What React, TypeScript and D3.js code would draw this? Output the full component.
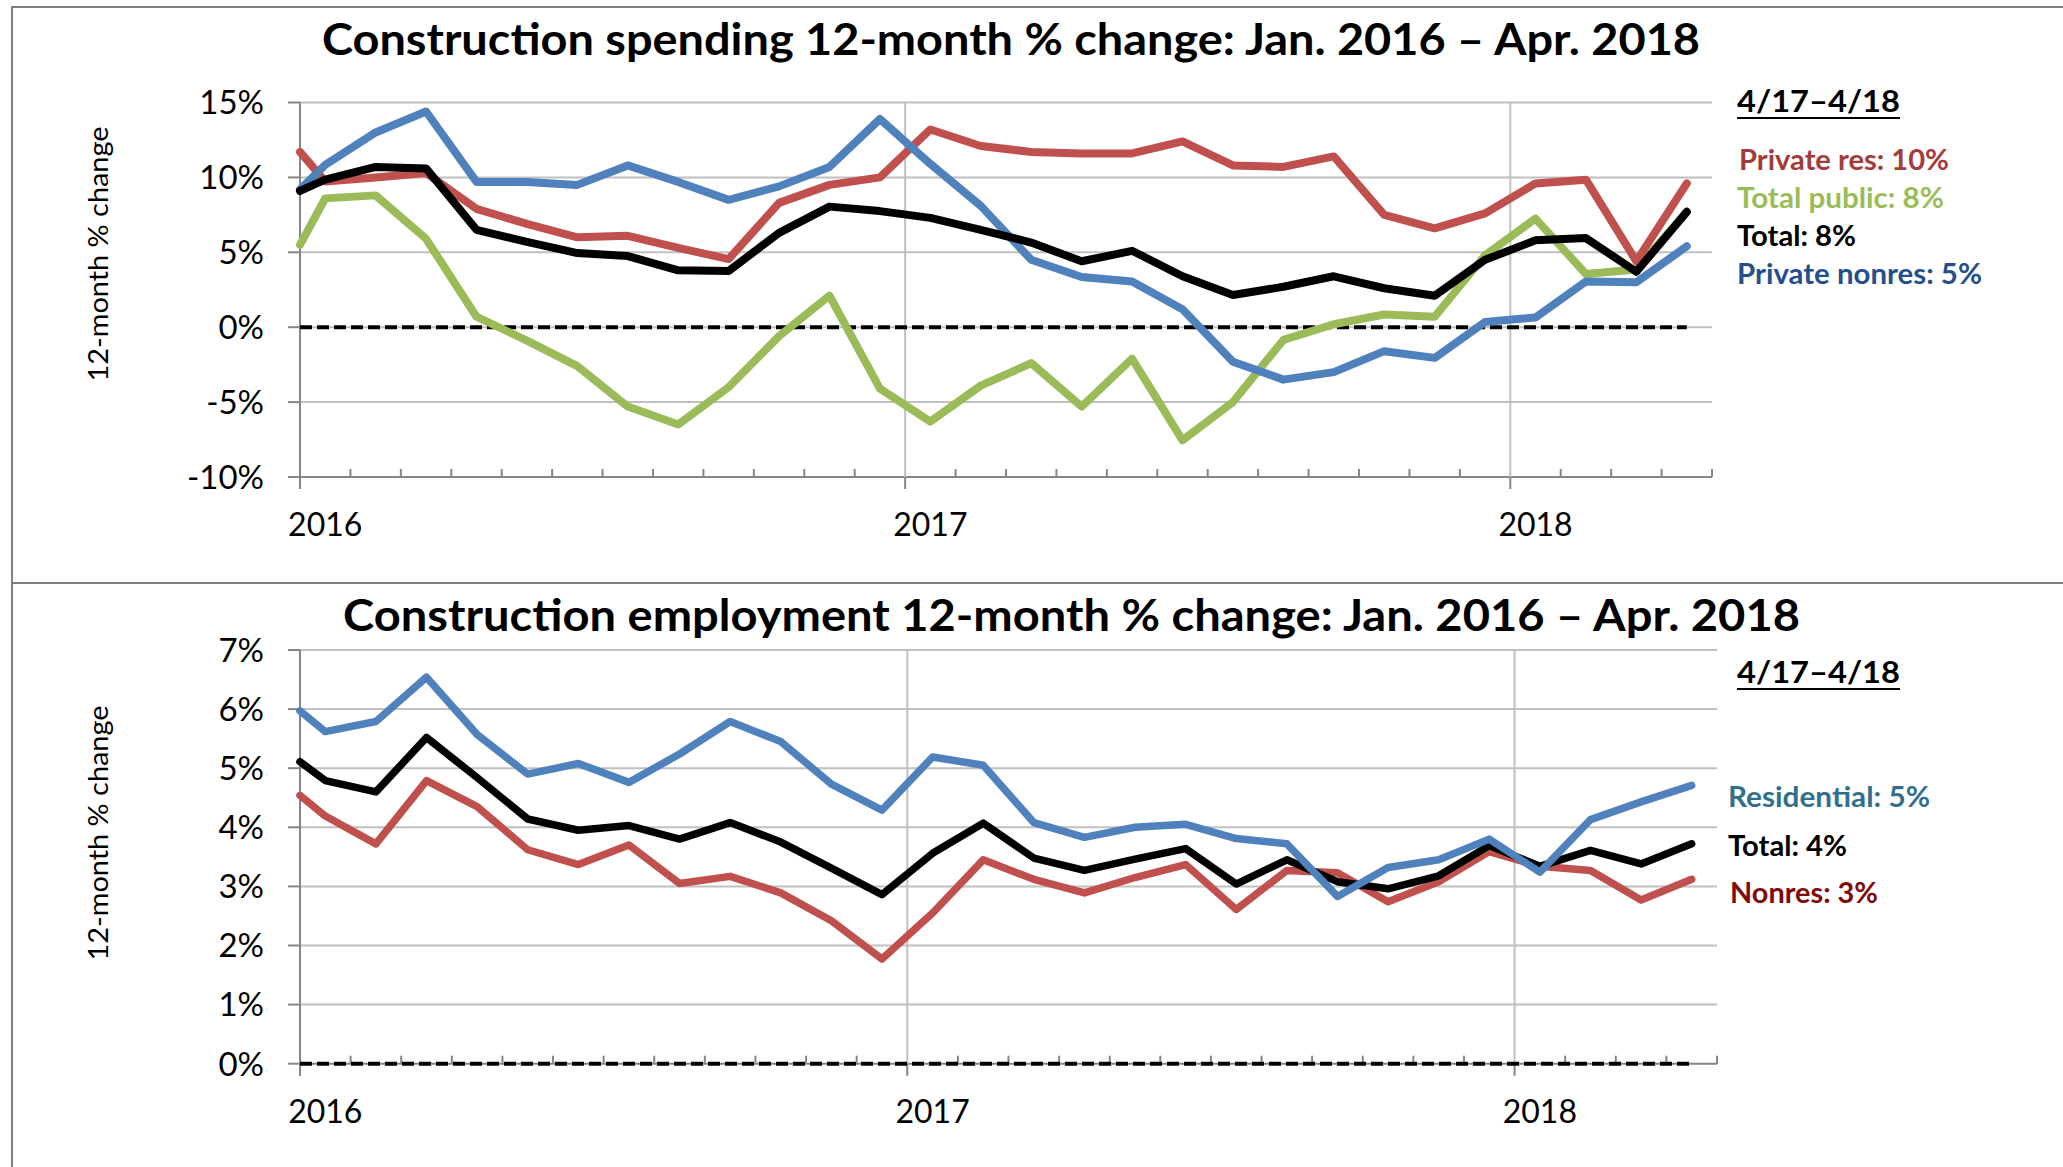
import React, { useRef, useEffect } from "react";
import { select, scaleBand, scaleLinear, line } from "d3";

// month categories, Jan 2016 - Apr 2018
const months = [
  "Jan 16", "Feb 16", "Mar 16", "Apr 16", "May 16", "Jun 16", "Jul 16", "Aug 16", "Sep 16", "Oct 16", "Nov 16", "Dec 16",
  "Jan 17", "Feb 17", "Mar 17", "Apr 17", "May 17", "Jun 17", "Jul 17", "Aug 17", "Sep 17", "Oct 17", "Nov 17", "Dec 17",
  "Jan 18", "Feb 18", "Mar 18", "Apr 18",
];
const yearMonths = ["Jan 16", "Jan 17", "Jan 18"];
const yearLabels = ["2016", "2017", "2018"];

// first value of each series = where the line enters at the left edge of the plot
// construction spending, 12-month % change
const privateRes = [11.7,
  9.73, 10.0, 10.3, 7.9, 6.9, 6.0, 6.1, 5.3, 4.55, 8.3, 9.5, 10.0, 13.2, 12.1,
  11.7, 11.6, 11.6, 12.4, 10.8, 10.7, 11.4, 7.5, 6.6, 7.6, 9.6, 9.85, 4.4, 9.6];
const privateNonres = [9.2,
  10.84, 13.0, 14.4, 9.7, 9.7, 9.5, 10.8, 9.7, 8.5, 9.4, 10.7, 13.9, 10.9, 8.1,
  4.5, 3.35, 3.05, 1.2, -2.3, -3.5, -3.0, -1.6, -2.05, 0.35, 0.65, 3.05, 3.0, 5.4];
const totalPublic = [5.5,
  8.6, 8.8, 5.9, 0.7, -0.9, -2.6, -5.3, -6.5, -4.0, -0.6, 2.1, -4.1, -6.3, -3.9,
  -2.4, -5.3, -2.1, -7.55, -5.0, -0.85, 0.2, 0.85, 0.7, 4.8, 7.25, 3.55, 3.85, 7.7];
const spendTotal = [9.1,
  9.85, 10.7, 10.6, 6.5, 5.7, 4.95, 4.75, 3.8, 3.75, 6.3, 8.05, 7.75, 7.3, 6.5,
  5.65, 4.4, 5.1, 3.4, 2.15, 2.7, 3.4, 2.6, 2.1, 4.5, 5.8, 5.95, 3.7, 7.7];
const spendTicks = [-10, -5, 0, 5, 10, 15];
const spendLegend = ["Private res: 10%", "Total public: 8%", "Total: 8%", "Private nonres: 5%"];

// construction employment, 12-month % change
const residential = [5.97,
  5.62, 5.79, 6.54, 5.57, 4.9, 5.08, 4.76, 5.24, 5.79, 5.45, 4.73, 4.29, 5.19, 5.05,
  4.08, 3.83, 4.0, 4.05, 3.81, 3.72, 2.83, 3.32, 3.45, 3.8, 3.24, 4.13, 4.43, 4.71];
const empTotal = [5.11,
  4.79, 4.6, 5.52, 4.84, 4.14, 3.95, 4.03, 3.8, 4.08, 3.75, 3.31, 2.86, 3.56, 4.07,
  3.48, 3.27, 3.46, 3.64, 3.04, 3.45, 3.08, 2.96, 3.18, 3.69, 3.34, 3.61, 3.38, 3.72];
const nonres = [4.54,
  4.19, 3.72, 4.79, 4.35, 3.62, 3.37, 3.7, 3.05, 3.17, 2.89, 2.42, 1.77, 2.55, 3.45,
  3.12, 2.89, 3.15, 3.37, 2.61, 3.27, 3.23, 2.74, 3.08, 3.59, 3.34, 3.27, 2.77, 3.12];
const empTicks = [0, 1, 2, 3, 4, 5, 6, 7];
const empLegend = ["Residential: 5%", "Total: 4%", "Nonres: 3%"];

const zeroLine = [0, ...months.map(() => 0)];

const FONT = "Lato, 'Open Sans', sans-serif";
const AXIS = "#868686";
const GRID = "#c0c0c0";

function drawPanel(g, cfg) {
  const x = scaleBand().domain(months).range([cfg.left, cfg.right]).paddingInner(0).paddingOuter(0);
  const y = scaleLinear().domain(cfg.domain).range([cfg.bottom, cfg.top]);
  const px = (d, k) => (k === 0 ? cfg.left : x(months[k - 1]) + x.bandwidth() / 2);
  const axisY = y(cfg.domain[0]);

  // title
  g.append("text")
    .attr("x", cfg.titleX).attr("y", cfg.titleY)
    .attr("text-anchor", "middle")
    .attr("textLength", cfg.titleW).attr("lengthAdjust", "spacingAndGlyphs")
    .style("font", `bold 44px ${FONT}`)
    .text(cfg.title);

  // horizontal gridlines + y ticks
  cfg.ticks.forEach((t) => {
    g.append("line").attr("x1", cfg.left).attr("x2", cfg.right)
      .attr("y1", y(t)).attr("y2", y(t))
      .attr("stroke", t === cfg.domain[0] ? AXIS : GRID).attr("stroke-width", 2);
    g.append("line").attr("x1", cfg.left - 12).attr("x2", cfg.left)
      .attr("y1", y(t)).attr("y2", y(t)).attr("stroke", AXIS).attr("stroke-width", 2);
    g.append("text").attr("x", 264).attr("y", y(t)).attr("dy", "0.36em")
      .attr("text-anchor", "end").style("font", `33px ${FONT}`)
      .text(`${t}%`);
  });

  // year gridlines
  yearMonths.slice(1).forEach((m) => {
    g.append("line").attr("x1", x(m)).attr("x2", x(m))
      .attr("y1", cfg.top).attr("y2", axisY).attr("stroke", GRID).attr("stroke-width", 2);
  });

  // y axis
  g.append("line").attr("x1", cfg.left).attr("x2", cfg.left)
    .attr("y1", cfg.top).attr("y2", axisY + 12).attr("stroke", AXIS).attr("stroke-width", 2);

  // x ticks: minor (up) at each month boundary, major (down) at years
  months.forEach((m) => {
    if (yearMonths.includes(m)) {
      g.append("line").attr("x1", x(m)).attr("x2", x(m))
        .attr("y1", axisY).attr("y2", axisY + 12).attr("stroke", AXIS).attr("stroke-width", 2);
    } else {
      g.append("line").attr("x1", x(m)).attr("x2", x(m))
        .attr("y1", axisY - 8).attr("y2", axisY).attr("stroke", AXIS).attr("stroke-width", 2);
    }
  });
  g.append("line").attr("x1", cfg.right).attr("x2", cfg.right)
    .attr("y1", axisY - 8).attr("y2", axisY).attr("stroke", AXIS).attr("stroke-width", 2);

  yearMonths.forEach((m, i) => {
    g.append("text").attr("x", x(m) + x.bandwidth() / 2).attr("y", cfg.xLabelY)
      .attr("text-anchor", "middle").style("font", `32px ${FONT}`)
      .text(yearLabels[i]);
  });

  // y axis title
  g.append("text")
    .attr("transform", `translate(108,${cfg.yTitleY}) rotate(-90)`)
    .attr("text-anchor", "middle")
    .attr("textLength", 255).attr("lengthAdjust", "spacingAndGlyphs")
    .style("font", `26px ${FONT}`)
    .text("12-month % change");

  const path = line().x(px).y((d) => y(d));

  g.append("path").attr("d", path(zeroLine)).attr("fill", "none")
    .attr("stroke", "#000").attr("stroke-width", 4).attr("stroke-dasharray", "12 5");

  cfg.series.forEach((s) => {
    g.append("path").attr("d", path(s.values)).attr("fill", "none")
      .attr("stroke", s.color).attr("stroke-width", cfg.lineW)
      .attr("stroke-linejoin", "round").attr("stroke-linecap", "round");
  });

  // legend
  g.append("text").attr("x", cfg.legendX).attr("y", cfg.legendHeadY)
    .attr("textLength", 163).attr("lengthAdjust", "spacingAndGlyphs")
    .style("font", `bold 31px ${FONT}`).text("4/17\u20134/18");
  g.append("line").attr("x1", cfg.legendX).attr("x2", cfg.legendX + 163)
    .attr("y1", cfg.legendHeadY + 6).attr("y2", cfg.legendHeadY + 6)
    .attr("stroke", "#000").attr("stroke-width", 2.2);
  cfg.legend.forEach((l) => {
    g.append("text").attr("x", l.x).attr("y", l.y)
      .attr("textLength", l.w).attr("lengthAdjust", "spacingAndGlyphs")
      .attr("fill", l.color).style("font", `bold 28px ${FONT}`).text(l.text);
  });
}

function App() {
  const svgRef = useRef();
  useEffect(() => {
    const svg = select(svgRef.current);
    svg.selectAll("*").remove();

    // frame
    svg.append("line").attr("x1", 12).attr("x2", 2063).attr("y1", 7).attr("y2", 7).attr("stroke", "#808080").attr("stroke-width", 2);
    svg.append("line").attr("x1", 12).attr("x2", 2063).attr("y1", 583).attr("y2", 583).attr("stroke", "#808080").attr("stroke-width", 2);
    svg.append("line").attr("x1", 12).attr("x2", 12).attr("y1", 6).attr("y2", 1167).attr("stroke", "#808080").attr("stroke-width", 2);

    drawPanel(svg.append("g"), {
      title: "Construction spending 12-month % change: Jan. 2016 \u2013 Apr. 2018",
      titleX: 1011, titleY: 55, titleW: 1378,
      left: 300, right: 1712, top: 102.5, bottom: 477,
      domain: [-10, 15], ticks: spendTicks,
      xLabelY: 536, yTitleY: 254, lineW: 8,
      series: [
        { values: totalPublic, color: "#9bbb59" },
        { values: privateRes, color: "#c0504d" },
        { values: privateNonres, color: "#4f81bd" },
        { values: spendTotal, color: "#000000" },
      ],
      legendX: 1737, legendHeadY: 112,
      legend: [
        { text: spendLegend[0], x: 1739, y: 170, w: 210, color: "#a33b3b" },
        { text: spendLegend[1], x: 1737, y: 208, w: 207, color: "#9bbb59" },
        { text: spendLegend[2], x: 1737, y: 246, w: 119, color: "#000000" },
        { text: spendLegend[3], x: 1737, y: 284, w: 245, color: "#254f8c" },
      ],
    });

    drawPanel(svg.append("g"), {
      title: "Construction employment 12-month % change: Jan. 2016 \u2013 Apr. 2018",
      titleX: 1071.5, titleY: 631, titleW: 1457,
      left: 300, right: 1717, top: 650, bottom: 1063.7,
      domain: [0, 7], ticks: empTicks,
      xLabelY: 1123, yTitleY: 833, lineW: 7.5,
      series: [
        { values: nonres, color: "#c0504d" },
        { values: empTotal, color: "#000000" },
        { values: residential, color: "#4f81bd" },
      ],
      legendX: 1737, legendHeadY: 683,
      legend: [
        { text: empLegend[0], x: 1728, y: 807, w: 202, color: "#31708c" },
        { text: empLegend[1], x: 1728, y: 856, w: 119, color: "#000000" },
        { text: empLegend[2], x: 1730, y: 903, w: 148, color: "#7f0a0a" },
      ],
    });
  }, []);

  return (
    <svg
      ref={svgRef}
      width={2063}
      height={1167}
      style={{ position: "absolute", left: 0, top: 0, background: "#fff", display: "block" }}
    ></svg>
  );
}

export default App;
